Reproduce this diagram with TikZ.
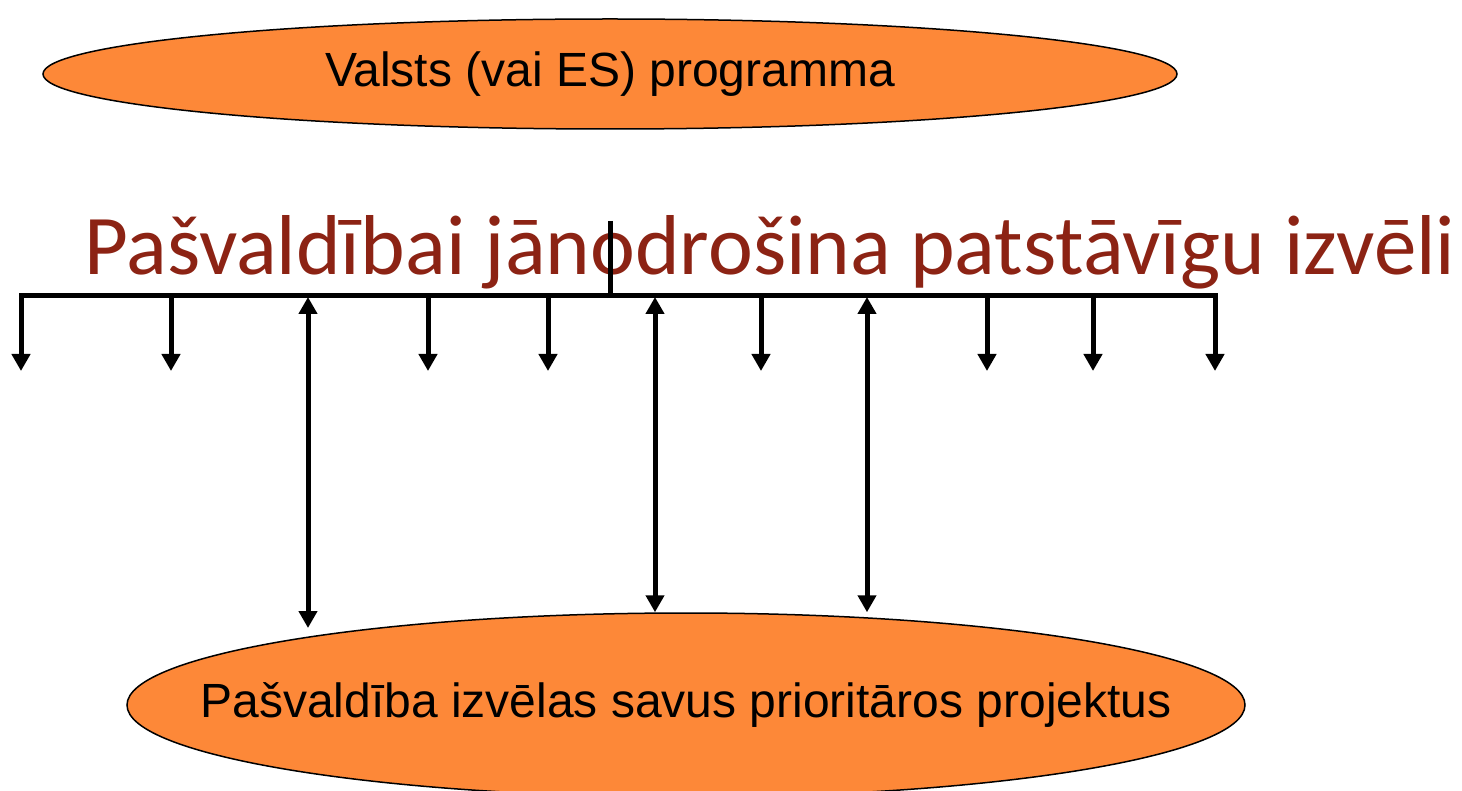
\documentclass[tikz,border=0pt]{standalone}
\usepackage{fontspec}
\setmainfont{Liberation Sans}
\newfontfamily\titlefont{Carlito}
\usetikzlibrary{arrows.meta,positioning,shapes.geometric}
\definecolor{planorange}{RGB}{253,136,56}
\definecolor{titlered}{RGB}{140,35,20}
\tikzset{%
	plan/.style  = {draw, ellipse, fill=planorange, line width=1.5pt, inner sep=0pt}, % orange ellipse
	plantext/.style = {inner sep=0pt, font=\fontsize{48}{58}\selectfont},
	title/.style = {anchor=base west, inner sep=0pt, text=titlered, font=\titlefont\fontsize{85}{100}\selectfont},
	bar/.style   = {line width=5pt, line cap=rect},
	down/.style  = {line width=5pt, -{Triangle[length=17pt,width=18pt]}},
	both/.style  = {line width=5pt, {Triangle[length=17pt,width=18pt]}-{Triangle[length=17pt,width=18pt]}},
}
\begin{document}
\begin{tikzpicture}[x=1pt,y=-1pt]
	\useasboundingbox (0,0) rectangle (1462,791);
	\node[plan, minimum width=1134pt, minimum height=110pt] (prog) at (610,74) {};
	\node[plantext] (progtext) at (prog.center) {Valsts (vai ES) programma};
	\node[title] (izvele) at (84,275) {Pašvaldībai jānodrošina patstāvīgu izvēli};
	\node[plan, minimum width=1118pt, minimum height=184pt] (proj) at (686,705) {};
	\node[plantext] (projtext) at (proj.center) {Pašvaldība izvēlas savus prioritāros projektus};
	
	% bar
	\coordinate (barL) at (21,296);
	\coordinate (barR) at (1215,296);
	\coordinate (stub) at (610,221);
	\draw[bar] (barL) -- (barR);
	\draw[line width=5pt] (stub) -- (stub |- barL);
	
	% arrows going nowhere
	\foreach \x [count=\i] in {21,171,428,548,761,987,1093,1215}{
		\coordinate (top\i) at (\x,296);
		\coordinate (tip\i) at (\x,371);
		\draw[down] (top\i) -- (tip\i);
	}
	
	% arrows to the projects
	\coordinate (upA) at (308,297);
	\coordinate (upB) at (655,297);
	\coordinate (upC) at (867,297);
	\coordinate (endA) at (308,628);
	\draw[both] (upA) -- (endA);
	\draw[both] (upB) -- (upB |- proj.north);
	\draw[both] (upC) -- (upC |- proj.north);
\end{tikzpicture}
\end{document}
